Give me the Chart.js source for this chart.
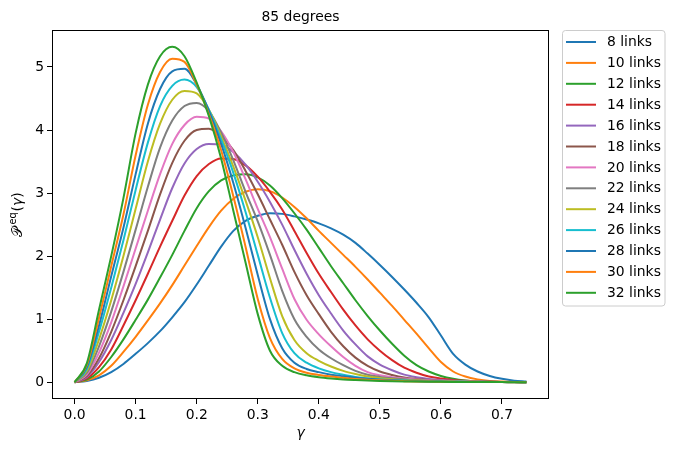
<!DOCTYPE html>
<html>
<head>
<meta charset="utf-8">
<script src="https://cdn.jsdelivr.net/npm/chart.js@4"></script>
<style>
  body { margin: 0; background: #fff; }
  canvas { display: block; }
</style>
</head>
<body>
<canvas id="lineChart" width="675" height="453"></canvas>
<script>
const chartTitle = "85 degrees";

// gamma values shared by every curve
const gamma = [0, 0.02, 0.04, 0.06, 0.08, 0.10, 0.12, 0.14, 0.16, 0.18,
  0.20, 0.22, 0.24, 0.26, 0.28, 0.30, 0.32, 0.34, 0.36, 0.38,
  0.40, 0.42, 0.44, 0.46, 0.48, 0.50, 0.52, 0.54, 0.56, 0.58,
  0.60, 0.62, 0.64, 0.66, 0.68, 0.70, 0.72, 0.74];

const links8 = [0, 0.02, 0.07, 0.16, 0.29, 0.45, 0.62, 0.81, 1.03, 1.27, 1.55, 1.85, 2.15, 2.40, 2.56, 2.64, 2.68, 2.67, 2.63, 2.58, 2.52, 2.44, 2.34, 2.21, 2.04, 1.86, 1.67, 1.47, 1.26, 1.03, 0.74, 0.45, 0.28, 0.17, 0.10, 0.055, 0.025, 0.01];
const links10 = [0, 0.03, 0.11, 0.26, 0.48, 0.72, 0.98, 1.25, 1.54, 1.85, 2.16, 2.46, 2.72, 2.91, 3.02, 3.06, 3.03, 2.93, 2.78, 2.60, 2.40, 2.21, 2.02, 1.83, 1.63, 1.42, 1.21, 0.99, 0.77, 0.54, 0.32, 0.17, 0.09, 0.045, 0.02, 0.01, 0.005, 0.002];
const links12 = [0, 0.04, 0.17, 0.40, 0.68, 0.99, 1.31, 1.66, 2.02, 2.40, 2.76, 3.03, 3.20, 3.28, 3.30, 3.25, 3.12, 2.92, 2.68, 2.42, 2.13, 1.84, 1.57, 1.30, 1.05, 0.82, 0.61, 0.42, 0.27, 0.17, 0.10, 0.055, 0.028, 0.014, 0.007, 0.004, 0.002, 0.001];
const links14 = [0, 0.06, 0.24, 0.52, 0.90, 1.30, 1.72, 2.15, 2.56, 2.96, 3.27, 3.46, 3.55, 3.54, 3.44, 3.26, 3.02, 2.74, 2.40, 2.05, 1.72, 1.43, 1.15, 0.90, 0.68, 0.50, 0.35, 0.23, 0.15, 0.09, 0.058, 0.036, 0.022, 0.013, 0.008, 0.005, 0.003, 0.002];
const links16 = [0, 0.08, 0.32, 0.67, 1.10, 1.56, 2.06, 2.58, 3.08, 3.47, 3.70, 3.78, 3.77, 3.65, 3.45, 3.18, 2.86, 2.50, 2.10, 1.72, 1.38, 1.09, 0.82, 0.60, 0.41, 0.28, 0.19, 0.12, 0.08, 0.053, 0.035, 0.023, 0.015, 0.010, 0.007, 0.004, 0.003, 0.002];
const links18 = [0, 0.10, 0.38, 0.80, 1.30, 1.84, 2.40, 2.98, 3.48, 3.83, 4.00, 4.02, 3.90, 3.68, 3.35, 2.98, 2.58, 2.18, 1.75, 1.38, 1.08, 0.80, 0.57, 0.39, 0.26, 0.17, 0.115, 0.075, 0.052, 0.036, 0.025, 0.018, 0.012, 0.008, 0.006, 0.004, 0.002, 0.001];
const links20 = [0, 0.12, 0.47, 0.95, 1.52, 2.12, 2.72, 3.30, 3.78, 4.08, 4.21, 4.18, 3.98, 3.65, 3.22, 2.75, 2.30, 1.80, 1.32, 0.99, 0.76, 0.57, 0.40, 0.26, 0.16, 0.11, 0.08, 0.058, 0.042, 0.03, 0.022, 0.016, 0.011, 0.008, 0.005, 0.004, 0.002, 0.001];
const links22 = [0, 0.15, 0.57, 1.12, 1.75, 2.42, 3.10, 3.72, 4.15, 4.38, 4.43, 4.30, 3.96, 3.52, 3.02, 2.55, 2.02, 1.45, 1.00, 0.72, 0.52, 0.38, 0.27, 0.18, 0.12, 0.085, 0.062, 0.046, 0.034, 0.025, 0.018, 0.013, 0.009, 0.007, 0.005, 0.003, 0.002, 0.001];
const links24 = [0, 0.18, 0.68, 1.30, 2.00, 2.75, 3.50, 4.10, 4.48, 4.62, 4.58, 4.32, 3.90, 3.42, 2.88, 2.30, 1.65, 1.05, 0.67, 0.46, 0.34, 0.25, 0.18, 0.13, 0.09, 0.065, 0.047, 0.035, 0.027, 0.02, 0.015, 0.011, 0.008, 0.006, 0.004, 0.003, 0.002, 0.001];
const links26 = [0, 0.21, 0.80, 1.50, 2.25, 3.05, 3.80, 4.38, 4.70, 4.80, 4.68, 4.32, 3.85, 3.32, 2.70, 2.02, 1.34, 0.78, 0.46, 0.31, 0.22, 0.16, 0.12, 0.085, 0.06, 0.045, 0.034, 0.026, 0.02, 0.015, 0.011, 0.008, 0.006, 0.004, 0.003, 0.002, 0.002, 0.001];
const links28 = [0, 0.24, 0.90, 1.68, 2.45, 3.30, 4.10, 4.65, 4.93, 4.97, 4.72, 4.30, 3.78, 3.16, 2.45, 1.70, 1.00, 0.54, 0.31, 0.21, 0.16, 0.12, 0.095, 0.073, 0.055, 0.04, 0.03, 0.023, 0.017, 0.013, 0.01, 0.007, 0.005, 0.004, 0.003, 0.002, 0.001, 0.001];
const links30 = [0, 0.27, 1.02, 1.84, 2.66, 3.60, 4.40, 4.92, 5.13, 5.08, 4.72, 4.25, 3.68, 2.95, 2.15, 1.32, 0.70, 0.37, 0.22, 0.15, 0.115, 0.09, 0.07, 0.05, 0.04, 0.03, 0.022, 0.017, 0.013, 0.01, 0.008, 0.006, 0.004, 0.003, 0.002, 0.002, 0.001, 0.001];
const links32 = [0, 0.30, 1.15, 2.00, 2.92, 3.95, 4.72, 5.17, 5.32, 5.17, 4.75, 4.22, 3.55, 2.72, 1.90, 1.08, 0.50, 0.26, 0.16, 0.11, 0.08, 0.06, 0.045, 0.035, 0.027, 0.02, 0.015, 0.012, 0.01, 0.008, 0.006, 0.005, 0.004, 0.003, 0.002, 0.002, 0.001, 0.001];

const seriesNames = ["8 links", "10 links", "12 links", "14 links", "16 links", "18 links", "20 links",
  "22 links", "24 links", "26 links", "28 links", "30 links", "32 links"];
const seriesValues = [links8, links10, links12, links14, links16, links18, links20,
  links22, links24, links26, links28, links30, links32];

const xTicks = [0, 0.1, 0.2, 0.3, 0.4, 0.5, 0.6, 0.7];
const yTicks = [0, 1, 2, 3, 4, 5];

// matplotlib tab10 cycle
const palette = ["#1f77b4", "#ff7f0e", "#2ca02c", "#d62728", "#9467bd", "#8c564b",
  "#e377c2", "#7f7f7f", "#bcbd22", "#17becf"];

const fontSize = 13.9;
Chart.defaults.font.family = "'DejaVu Sans', sans-serif";
Chart.defaults.font.size = fontSize;
Chart.defaults.color = "#000";

// frame, title, axis labels and legend drawn like matplotlib
const decorations = {
  id: "decorations",
  afterDraw(chart) {
    const { ctx, chartArea: a } = chart;
    const midX = (a.left + a.right) / 2;
    const midY = (a.top + a.bottom) / 2;
    ctx.save();

    ctx.strokeStyle = "#000";
    ctx.lineWidth = 1;
    ctx.strokeRect(a.left + 0.5, a.top + 0.5, a.right - a.left - 1, a.bottom - a.top - 1);

    ctx.fillStyle = "#000";
    ctx.textAlign = "center";
    ctx.textBaseline = "alphabetic";
    ctx.font = fontSize + "px 'DejaVu Sans'";
    ctx.fillText(chartTitle, midX, a.top - 9);

    ctx.font = "italic " + fontSize + "px 'DejaVu Sans'";
    ctx.fillText("γ", midX, 437);

    // y label: P^eq(γ)
    ctx.translate(22, midY);
    ctx.rotate(-Math.PI / 2);
    const big = fontSize + "px 'DejaVu Sans'";
    const parts = [
      { t: "𝒫", f: big, dy: 0, gap: 2 },
      { t: "eq", f: "9.7px 'DejaVu Sans'", dy: -6, gap: 1 },
      { t: "(", f: big, dy: 0, gap: 0 },
      { t: "γ", f: "italic " + big, dy: 0, gap: 0 },
      { t: ")", f: big, dy: 0, gap: 0 },
    ];
    let total = 0;
    parts.forEach((p) => { ctx.font = p.f; p.w = ctx.measureText(p.t).width + p.gap; total += p.w; });
    let x = -total / 2;
    ctx.textAlign = "left";
    parts.forEach((p) => { ctx.font = p.f; ctx.fillText(p.t, x, p.dy); x += p.w; });
    ctx.restore();

    // legend box
    ctx.save();
    ctx.beginPath();
    ctx.roundRect(562.5, 30.5, 102.5, 275.5, 3);
    ctx.fillStyle = "rgba(255,255,255,0.8)";
    ctx.fill();
    ctx.strokeStyle = "#cccccc";
    ctx.lineWidth = 1;
    ctx.stroke();
    ctx.font = fontSize + "px 'DejaVu Sans'";
    ctx.textAlign = "left";
    ctx.textBaseline = "middle";
    chart.data.datasets.forEach((ds, i) => {
      const y = 42 + i * 20.9;
      ctx.strokeStyle = ds.borderColor;
      ctx.lineWidth = 2;
      ctx.beginPath();
      ctx.moveTo(566, y);
      ctx.lineTo(596, y);
      ctx.stroke();
      ctx.fillStyle = "#000";
      ctx.fillText(ds.label, 607, y + 0.5);
    });
    ctx.restore();
  },
};

const axisStyle = {
  grid: { drawOnChartArea: false, drawTicks: true, tickLength: 5, color: "#000", tickWidth: 1 },
  border: { display: false },
};

const datasets = seriesValues.map((values, i) => ({
  label: seriesNames[i],
  data: gamma.map((g, j) => ({ x: g, y: values[j] })),
  borderColor: palette[i % palette.length],
  borderWidth: 2,
  pointRadius: 0,
  fill: false,
  cubicInterpolationMode: "monotone",
  order: seriesValues.length - 1 - i,
}));

new Chart(document.getElementById("lineChart").getContext("2d"), {
  type: "line",
  data: { datasets },
  options: {
    responsive: false,
    animation: false,
    layout: { padding: { left: 0, top: 30, right: 126, bottom: 0 } },
    plugins: {
      legend: { display: false },
      title: { display: false },
      tooltip: { enabled: false },
    },
    scales: {
      x: {
        type: "linear",
        min: -0.037,
        max: 0.777,
        ...axisStyle,
        afterBuildTicks: (scale) => { scale.ticks = xTicks.map((v) => ({ value: v })); },
        afterFit: (scale) => { scale.height = 54; },
        ticks: { padding: 3, maxRotation: 0, callback: (v) => v.toFixed(1) },
      },
      y: {
        type: "linear",
        min: -0.266,
        max: 5.586,
        ...axisStyle,
        afterBuildTicks: (scale) => { scale.ticks = yTicks.map((v) => ({ value: v })); },
        afterFit: (scale) => { scale.width = 52; },
        ticks: { padding: 3, callback: (v) => String(v) },
      },
    },
  },
  plugins: [decorations],
});
</script>
</body>
</html>
